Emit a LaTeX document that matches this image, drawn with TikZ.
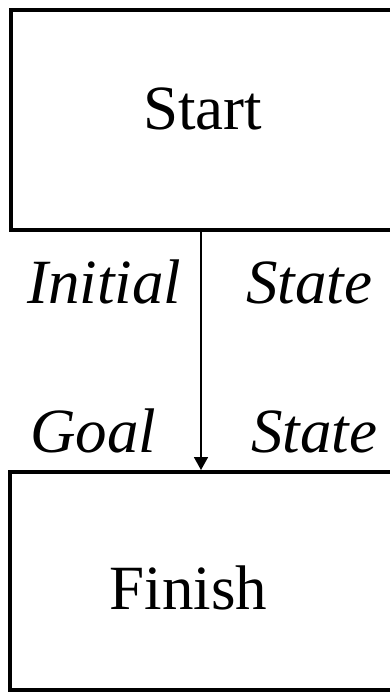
\documentclass[tikz,border=0pt]{standalone}
\usepackage{fontspec}
\setmainfont{Liberation Serif}
\usetikzlibrary{arrows.meta}
\begin{document}
\begin{tikzpicture}[x=1pt,y=1pt,
  box/.style={draw=black,line width=4pt,rectangle,minimum width=384pt,inner sep=0pt},
  txt/.style={font=\fontsize{63}{75}\selectfont,inner sep=0pt},
  itxt/.style={font=\fontsize{63}{75}\selectfont\itshape,inner sep=0pt,anchor=base west},
  conn/.style={line width=1.8pt,-{Triangle[length=13pt,width=14pt]}}]
\useasboundingbox (0,0) rectangle (390,-697);
\clip (0,0) rectangle (390,-697);
\node[box,minimum height=220pt] (start) at (203,-120) {};
\node[box,minimum height=218pt] (finish) at (202,-581) {};
\node[txt,anchor=base] (starttxt) at (202.5,-129) {Start};
\node[txt,anchor=base] (finishtxt) at (188.5,-609) {Finish};
\node[itxt] (initial) at (27,-303) {Initial};
\node[itxt] (state1) at (246,-303) {State};
\node[itxt] (goal) at (30,-452) {Goal};
\node[itxt] (state2) at (251,-452) {State};
\draw[conn] ([xshift=-2pt]start.south) -- ([xshift=-1pt]finish.north);
\end{tikzpicture}
\end{document}
